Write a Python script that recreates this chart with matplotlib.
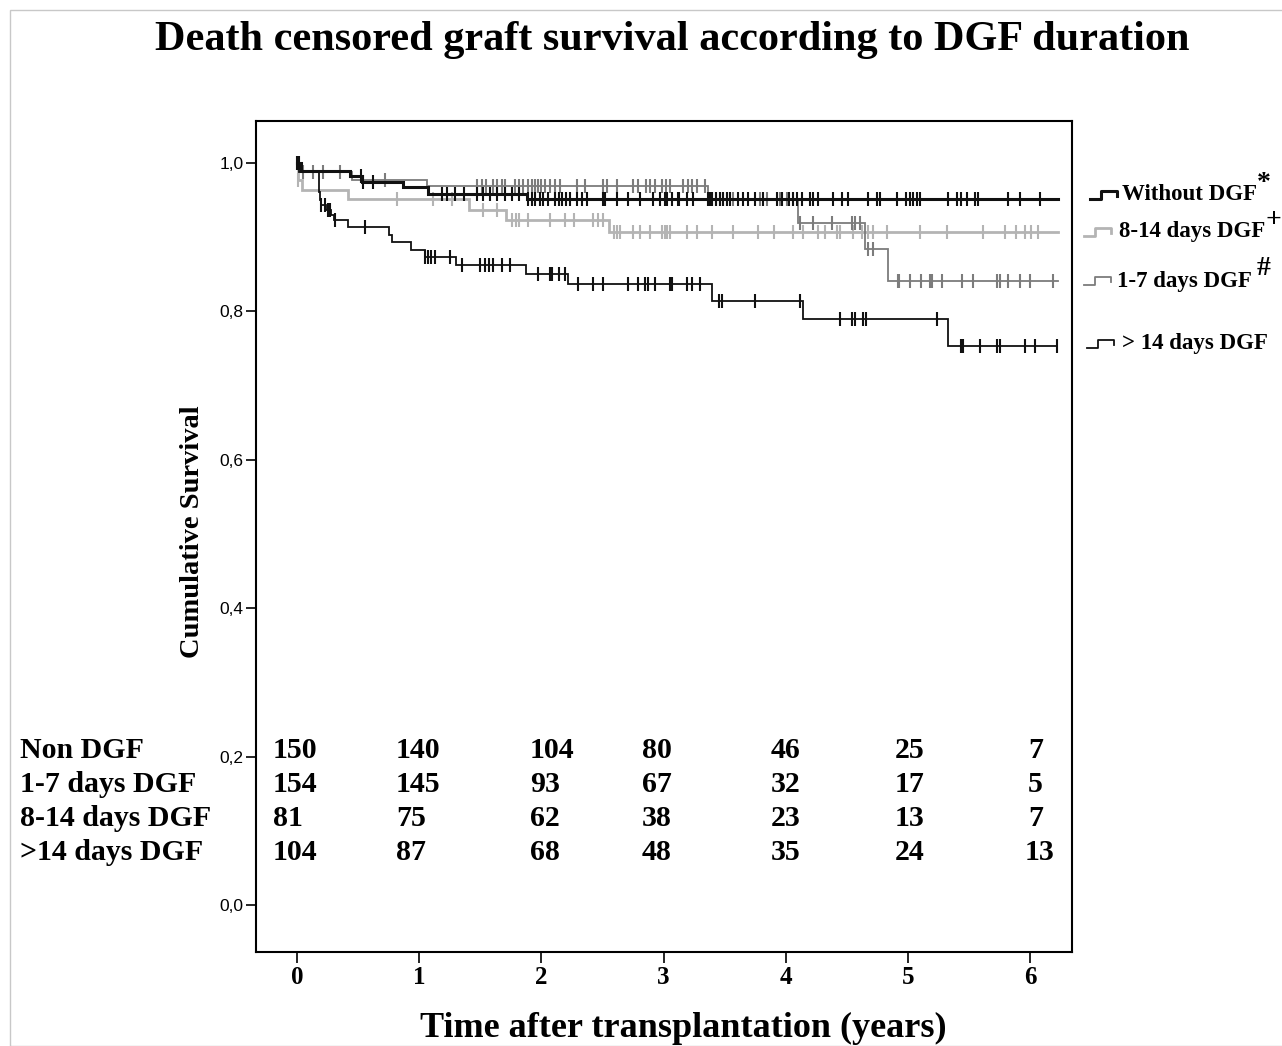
import numpy as np
import matplotlib

matplotlib.use("Agg")

import matplotlib.pyplot as plt
from matplotlib.lines import Line2D
from matplotlib.patches import Rectangle

W_PX, H_PX = 1282, 1046
SERIF = "Liberation Serif"
SANS = "Liberation Sans"

# Kaplan-Meier steps (years, survival)
NODGF_T = [0.0, 0.03, 0.43, 0.53, 0.87, 1.07, 1.88]
NODGF_S = [1.0, 0.988, 0.982, 0.974, 0.967, 0.958, 0.951]
NODGF_CENS = [0.02, 0.52, 0.54, 0.62, 1.19, 1.23, 1.29, 1.37, 1.47, 1.52, 1.58, 1.64, 1.70, 1.76,
              1.82, 1.89, 1.92, 1.95, 1.99, 2.01, 2.05, 2.11, 2.14, 2.17, 2.20, 2.23, 2.29, 2.33,
              2.37, 2.50, 2.52, 2.62, 2.71, 2.81, 2.91, 2.97, 3.01, 3.03, 3.07, 3.12, 3.13, 3.19,
              3.24, 3.36, 3.38, 3.40, 3.43, 3.46, 3.49, 3.52, 3.54, 3.61, 3.65, 3.69, 3.75, 3.81,
              3.93, 3.97, 4.03, 4.06, 4.09, 4.13, 4.20, 4.22, 4.26, 4.39, 4.46, 4.51, 4.67, 4.75,
              4.77, 4.91, 4.98, 5.02, 5.04, 5.07, 5.10, 5.33, 5.40, 5.43, 5.48, 5.55, 5.57, 5.82,
              5.92, 6.08]
NODGF_END = 6.23

D17_T = [0.0, 0.03, 0.45, 1.06, 3.36, 4.10, 4.65, 4.84]
D17_S = [1.0, 0.987, 0.976, 0.968, 0.951, 0.919, 0.883, 0.840]
D17_CENS = [0.05, 0.13, 0.21, 0.35, 0.72, 1.47, 1.51, 1.55, 1.60, 1.64, 1.68, 1.70, 1.78, 1.82,
            1.85, 1.89, 1.92, 1.95, 1.97, 2.00, 2.03, 2.07, 2.11, 2.15, 2.29, 2.36, 2.50, 2.54,
            2.62, 2.75, 2.79, 2.86, 2.89, 2.93, 2.99, 3.02, 3.05, 3.16, 3.20, 3.23, 3.27, 3.34,
            3.40, 3.43, 3.46, 3.49, 3.52, 3.57, 3.79, 3.85, 3.95, 4.01, 4.06, 4.12, 4.22, 4.38,
            4.54, 4.57, 4.61, 4.67, 4.71, 4.92, 4.93, 5.02, 5.11, 5.18, 5.20, 5.28, 5.44, 5.53,
            5.73, 5.75, 5.82, 5.92, 6.00, 6.19]
D17_END = 6.23

D814_T = [0.0, 0.01, 0.04, 0.42, 1.41, 1.71, 2.55]
D814_S = [1.0, 0.976, 0.963, 0.951, 0.936, 0.922, 0.906]
D814_CENS = [0.01, 0.82, 1.11, 1.27, 1.52, 1.64, 1.76, 1.79, 1.82, 1.89, 2.07, 2.19, 2.27, 2.42,
             2.46, 2.50, 2.59, 2.62, 2.64, 2.75, 2.81, 2.89, 2.99, 3.01, 3.03, 3.05, 3.19, 3.27,
             3.40, 3.57, 3.77, 3.90, 4.06, 4.14, 4.26, 4.32, 4.42, 4.44, 4.55, 4.62, 4.67, 4.71,
             4.83, 5.10, 5.32, 5.61, 5.79, 5.88, 5.96, 6.01, 6.06]
D814_END = 6.23

D14_T = [0.0, 0.02, 0.18, 0.19, 0.20, 0.24, 0.28, 0.30, 0.42, 0.75, 0.78, 0.93, 1.05, 1.30,
         1.87, 2.22, 3.40, 4.14, 5.33]
D14_S = [1.0, 0.987, 0.960, 0.950, 0.943, 0.936, 0.929, 0.922, 0.913, 0.902, 0.893, 0.882,
         0.873, 0.862, 0.850, 0.836, 0.813, 0.789, 0.753]
D14_CENS = [0.0, 0.20, 0.23, 0.25, 0.27, 0.31, 0.56, 1.05, 1.07, 1.10, 1.13, 1.25, 1.35, 1.50,
            1.54, 1.57, 1.60, 1.68, 1.74, 1.97, 2.07, 2.09, 2.14, 2.19, 2.30, 2.42, 2.50, 2.71,
            2.79, 2.85, 2.87, 2.93, 3.05, 3.07, 3.19, 3.23, 3.30, 3.45, 3.48, 3.75, 4.12, 4.44,
            4.54, 4.57, 4.63, 4.66, 5.24, 5.43, 5.45, 5.59, 5.73, 5.75, 5.96, 6.04, 6.22]
D14_END = 6.22

# numbers at risk
RISK_LABELS = ["Non DGF", "1-7 days DGF", "8-14 days DGF", ">14 days DGF"]
RISK_NODGF = [150, 140, 104, 80, 46, 25, 7]
RISK_D17 = [154, 145, 93, 67, 32, 17, 5]
RISK_D814 = [81, 75, 62, 38, 23, 13, 7]
RISK_D14 = [104, 87, 68, 48, 35, 24, 13]

LEGEND_LABELS = ["Without DGF", "8-14 days DGF", "1-7 days DGF", "> 14 days DGF"]
LEGEND_MARKS = ["*", "+", "#", ""]

BLACK = "#111111"
LIGHT = "#b4b4b4"
MID = "#7c7c7c"


def fx(px):
    return px / W_PX


def fy(py):
    return 1 - py / H_PX


def surv_at(times, surv, t):
    idx = np.searchsorted(np.asarray(times), np.asarray(t), side="right") - 1
    return np.asarray(surv)[idx]


fig = plt.figure(figsize=(W_PX / 100, H_PX / 100), dpi=100)
fig.patches.append(Rectangle((fx(10), 0), 1.2, fy(10), transform=fig.transFigure,
                             fill=False, edgecolor="#c8c8c8", lw=1.0))

ax = fig.add_axes([fx(256), fy(952), fx(1072) - fx(256), fy(121) - fy(952)])

groups = [
    (D814_T, D814_S, D814_CENS, D814_END, LIGHT, 2.0),
    (D17_T, D17_S, D17_CENS, D17_END, MID, 1.3),
    (D14_T, D14_S, D14_CENS, D14_END, BLACK, 1.3),
    (NODGF_T, NODGF_S, NODGF_CENS, NODGF_END, BLACK, 2.2),
]
for times, surv, cens, end, col, lw in groups:
    tt = list(times) + [end]
    ss = list(surv) + [surv[-1]]
    ax.step(tt, ss, where="post", color=col, lw=lw, solid_joinstyle="miter")
    ax.plot(cens, surv_at(times, surv, cens), ls="none", marker="|", ms=10,
            mew=1.5, color=col)

ax.set_xlim(-0.3355, 6.342)
ax.set_ylim(-0.0633, 1.0559)
ax.set_xticks(range(7))
ax.set_yticks([0.0, 0.2, 0.4, 0.6, 0.8, 1.0])
ax.set_yticklabels([f"{v:.1f}".replace(".", ",") for v in ax.get_yticks()],
                   fontfamily=SANS, fontsize=12.5)
ax.set_xticklabels([str(i) for i in range(7)], fontfamily=SERIF, fontweight="bold", fontsize=18)
ax.tick_params(axis="y", direction="out", length=7, width=1.2, pad=2)
ax.tick_params(axis="x", direction="out", length=8, width=1.2, pad=2)
for sp in ax.spines.values():
    sp.set_linewidth(1.5)

fig.text(fx(193), fy(532), "Cumulative Survival", rotation=90, ha="center", va="center",
         fontfamily=SERIF, fontweight="bold", fontsize=20.5)
fig.text(fx(683), fy(1028), "Time after transplantation (years)", ha="center", va="center",
         fontfamily=SERIF, fontweight="bold", fontsize=26)
fig.text(fx(672), fy(40), "Death censored graft survival according to DGF duration",
         ha="center", va="center", fontfamily=SERIF, fontweight="bold", fontsize=30.4)

# numbers at risk table
row_y = [750, 784, 818, 852]
col_x = [273, 396, 530, 642, 771, 895, 1028]
for label, row, y in zip(RISK_LABELS, [RISK_NODGF, RISK_D17, RISK_D814, RISK_D14], row_y):
    fig.text(fx(20), fy(y), label, ha="left", va="center", fontfamily=SERIF,
             fontweight="bold", fontsize=21.5)
    for n, x in zip(row, col_x):
        xx = x - 3 if n >= 10 and x == 1028 else x
        fig.text(fx(xx), fy(y), str(n), ha="left", va="center", fontfamily=SERIF,
                 fontweight="bold", fontsize=21.5)

# legend drawn by hand with step-shaped keys
leg_y = [195, 232, 281, 344]
leg_icon_x = [1090, 1084, 1084, 1087]
leg_text_x = [1122, 1119, 1117, 1122]
leg_cols = [BLACK, LIGHT, MID, BLACK]
leg_lw = [2.2, 2.0, 1.3, 1.3]
leg_mark_x = [1257, 1281, 1257, 0]
for lab, mark, y, ix, tx, mx, col, lw in zip(LEGEND_LABELS, LEGEND_MARKS, leg_y, leg_icon_x,
                                             leg_text_x, leg_mark_x, leg_cols, leg_lw):
    xs = [ix, ix + 11, ix + 11, ix + 27, ix + 27]
    ys = [y + 4, y + 4, y - 4, y - 4, y + 1]
    fig.add_artist(Line2D([fx(v) for v in xs], [fy(v) for v in ys], color=col, lw=lw))
    fig.text(fx(tx), fy(y), lab, ha="left", va="center", fontfamily=SERIF,
             fontweight="bold", fontsize=16.5)
    if mark:
        fig.text(fx(mx), fy(y - 12), mark, ha="right" if mark == "+" else "left",
                 va="center", fontfamily=SERIF, fontweight="bold", fontsize=20)

fig.savefig("out.png", dpi=100)
